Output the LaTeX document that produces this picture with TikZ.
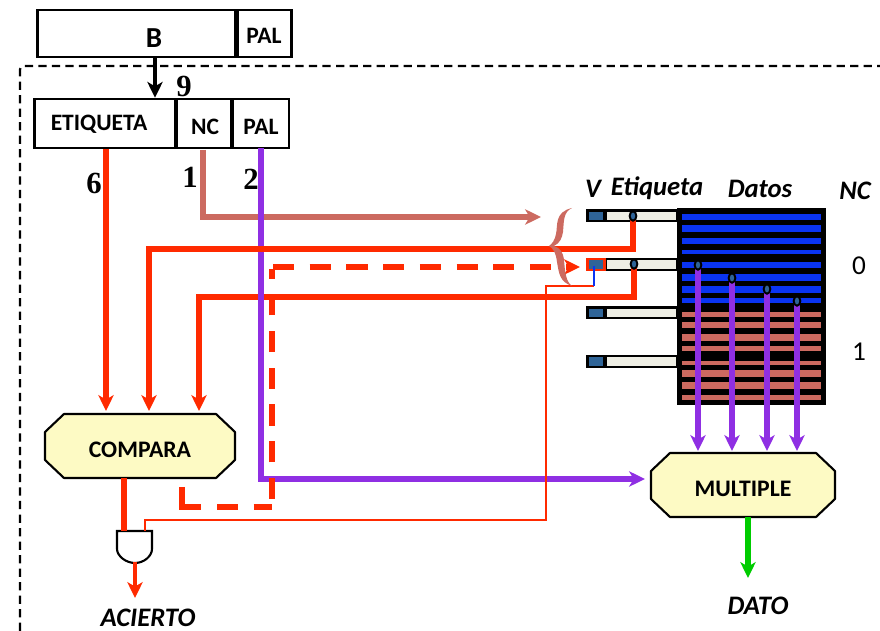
\documentclass[tikz,border=0pt]{standalone}
\usepackage{fontspec}
\setmainfont{Carlito}
\newfontfamily\numfont{Liberation Serif}
\usetikzlibrary{arrows.meta}
\usetikzlibrary{shapes.geometric}
\definecolor{wirered}{HTML}{FF2A00}
\definecolor{wiresalmon}{HTML}{CC6A60}
\definecolor{wirepurple}{HTML}{8F2FE3}
\definecolor{wiregreen}{HTML}{00CC00}
\definecolor{barblue}{HTML}{0A34F2}
\definecolor{vblue}{HTML}{2F6497}
\definecolor{tagfill}{HTML}{EEEEE4}
\definecolor{boxyellow}{HTML}{FDFAC4}
\tikzstyle{fieldbox}=[draw=black,line width=1.5pt,inner sep=0]
\tikzstyle{unitbox}=[line width=1.2pt,fill=boxyellow,draw=black,line join=round]
\tikzstyle{unittext}=[inner sep=0,font=\fontsize{13.5}{14}\selectfont\bfseries]
\tikzstyle{textlabel}=[inner sep=0,font=\fontsize{15.2}{16}\selectfont\bfseries\itshape]
\tikzstyle{fieldtext}=[inner sep=0,font=\fontsize{13.4}{14}\selectfont\bfseries]
\tikzstyle{bitnum}=[inner sep=0,font=\fontsize{17.5}{18}\selectfont\bfseries\numfont]
\tikzstyle{setnum}=[inner sep=0,font=\fontsize{15.5}{16}\selectfont]
\tikzstyle{vbox}=[draw=black,line width=1.4pt,fill=vblue,inner sep=0,minimum width=9.5pt,minimum height=6pt]
\tikzstyle{tagbox}=[draw=black,line width=1.4pt,fill=tagfill,inner sep=0,minimum width=41pt,minimum height=6pt]
\tikzstyle{tap}=[ellipse,draw=black,line width=1.1pt,fill=vblue,inner sep=0,minimum width=3.8pt,minimum height=5.4pt]
\tikzstyle{wire}=[line width=3.1pt,wirered]
\tikzstyle{wirehead}=[-{Stealth[length=9pt,width=8.7pt,inset=2.5pt]}]
\tikzstyle{dashwire}=[wire,dash pattern=on 12pt off 8.9pt]
\newcommand{\cacheline}[2]{ % row number, y
  \node[vbox] (v#1) at (596,#2) {};
  \node[tagbox] (tag#1) at (641.5,#2) {};
}
\newcommand{\unitshape}[6]{ % name, left, top, right, bottom, text
  \draw[unitbox] (#2+19,#3) -- (#4-19,#3) -- (#4,#3+18) -- (#4,#5-18) -- (#4-19,#5) -- (#2+19,#5) -- (#2,#5-18) -- (#2,#3+18) -- cycle;
  \node[unittext] (#1) at ({(#2+#4)/2},{(#3+#5)/2+3.5}) {#6};
}
\begin{document}
\begin{tikzpicture}[x=0.02cm,y=-0.02cm]
	\useasboundingbox (0,0) rectangle (880,631);
	% frame
	\coordinate (frameA) at (20,631);
	\coordinate (frameB) at (20,66);
	\coordinate (frameC) at (880,66);
	\draw[line width=1.3pt,dash pattern=on 4.7pt off 3pt,rounded corners=2pt] (frameA) -- (frameB) -- (frameC);
	% address fields
	\node[fieldbox,minimum width=113pt,minimum height=26.6pt] (blockB) at (136.5,33.5) {};
	\node[inner sep=0,font=\fontsize{16.5}{17}\selectfont\bfseries] at (154,38) {B};
	\node[fieldbox,minimum width=31pt,minimum height=26.6pt] (blockPal) at (264.5,33.5) {};
	\node[fieldtext] at (264,36) {PAL};
	\node[fieldbox,minimum width=80.2pt,minimum height=27.8pt] (etiq) at (104.75,123.5) {};
	\node[fieldtext] at (99,124) {ETIQUETA};
	\node[fieldbox,minimum width=31.2pt,minimum height=27.8pt] (nc) at (204,123.5) {};
	\node[fieldtext] at (205,127) {NC};
	\node[fieldbox,minimum width=32pt,minimum height=27.8pt] (pal) at (260.75,123.5) {};
	\node[fieldtext] at (261,127) {PAL};
	\node[bitnum] at (184,86) {9};
	\node[bitnum] at (94,183) {6};
	\node[bitnum] at (190,177) {1};
	\node[bitnum] at (251,179) {2};
	% cache
	\fill[black] (677,208) rectangle (826,405);
	\foreach \ya/\yb in {213.7/220,225/232,237.7/244.3,249.7/254,262/268.3,273.7/280.7,285.7/292.7,298/303.3}
		\fill[barblue] (682,\ya) rectangle (821,\yb);
	\foreach \ya/\yb in {312.3/316.7,322.3/328.3,334/341,346.3/351,360.7/365,370.3/377,382.3/389,394.7/399.7}
		\fill[wiresalmon] (682,\ya) rectangle (821,\yb);
	\foreach \i/\y in {0/216,1/264.5,2/313,3/361.5}
		\cacheline{\i}{\y}
	\node[vbox,draw=wirered] (vhit) at (596,264.5) {};
	\node[textlabel] at (593,189) {V};
	\node[textlabel] at (657,188) {Etiqueta};
	\node[textlabel] at (760,189) {Datos};
	\node[textlabel] at (855,191) {NC};
	\node[setnum] at (859,266) {0};
	\node[setnum] at (859,352) {1};
	% units
	\unitshape{compara}{45}{414}{235}{478}{COMPARA}
	\unitshape{multiple}{651}{453}{835}{517}{MULTIPLE}
	\coordinate (gateA) at (124,531);
	\coordinate (gateB) at (145,531);
	\coordinate (gateC) at (135,562);
	\draw[line width=1.2pt,fill=white] (117,531) -- (152,531) -- (152,549) .. controls (152,556) and (144,563) .. (135,563) .. controls (126,563) and (117,556) .. (117,549) -- cycle;
	\node[textlabel] at (148,618) {ACIERTO};
	\node[textlabel] (datoL) at (758,606) {DATO};
	% wires
	\coordinate (cmpA) at (106,411);
	\coordinate (cmpB) at (149,411);
	\coordinate (cmpC) at (199,411);
	\coordinate (cmpOut) at (124,478);
	\coordinate (muxTop) at (0,451);
	\coordinate (tapA) at (633,216);
	\coordinate (tapB) at (634,264);
	\coordinate (tapC) at (698,265);
	\coordinate (tapD) at (732,278);
	\coordinate (tapE) at (767,289);
	\coordinate (tapF) at (797,301);
	\draw[wire,wirehead] (etiq.south -| cmpA) -- (cmpA);
	\draw[wire,wirehead] (tapB) -- (634,297) -- (199,297) -- (cmpC);
	\coordinate (braceL) at (541,217);
	\coordinate (ncOut) at (203,150);
	\draw[wire,wiresalmon,wirehead] (ncOut) -- (ncOut |- braceL) -- (braceL);
	\coordinate (palOut) at (261,148);
	\coordinate (muxIn) at (645,479);
	\draw[wire,wirepurple,wirehead] (palOut) -- (palOut |- muxIn) -- (muxIn);
	\draw[wire,wirehead] (tapA) -- (633,249) -- (149,249) -- (cmpB);
	\draw[wire] (182,487) -- (182,507) -- (201,507);
	\draw[dashwire] (217,507) -- (272,507);
	\draw[dashwire] (272,499) -- (272,269);
	\draw[dashwire] (273,267) -- (553,267);
	\draw[wire,wirehead] (566,267) -- (580,267);
	\draw[line width=1.3pt,wirered] (gateB) -- (145,520) -- (546,520) -- (546,286) -- (594,286);
	\draw[line width=1.3pt,barblue] (594,286) -- (594,266);
	\draw[wire] (cmpOut) -- (gateA);
	\draw[line width=2.4pt,wirered,wirehead] (gateC) -- (135,598);
	\foreach \t in {tapC,tapD,tapE,tapF}
		\draw[wire,wirepurple,wirehead] (\t) -- (\t |- muxTop);
	\coordinate (datoOut) at (748,517);
	\coordinate (datoEnd) at (748,578);
	\draw[wire,wiregreen,wirehead] (datoOut) -- (datoEnd);
	\coordinate (busOut) at (155,57);
	\draw[line width=2.6pt,wirehead,black] (busOut) -- (busOut |- etiq.north);
	\node[tap] (dotA) at (tapA) {};
	\node[tap] (dotB) at (tapB) {};
	\node[tap] (dotC) at (tapC) {};
	\node[tap] (dotD) at (tapD) {};
	\node[tap] (dotE) at (tapE) {};
	\node[tap] (dotF) at (tapF) {};
	% brace
	\fill[wiresalmon] (572,208) .. controls (554,212) and (558,226) .. (556,234) .. controls (555,240) and (552,244) .. (549,246) .. controls (553,248) and (556,253) .. (557,262) .. controls (559,274) and (560,282) .. (572,286) .. controls (566,282) and (565,272) .. (564,260) .. controls (563,252) and (560,248) .. (554,246) .. controls (560,243) and (562,238) .. (563,232) .. controls (564,222) and (563,212) .. (572,208) -- cycle;
\end{tikzpicture}
\end{document}
